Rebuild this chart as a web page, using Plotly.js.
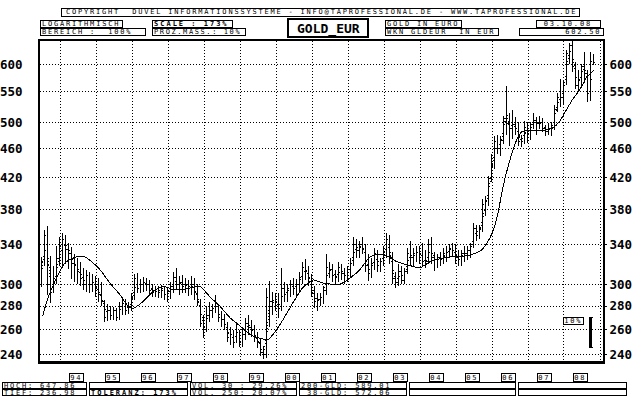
<!DOCTYPE html>
<html><head><meta charset="utf-8">
<script src="https://cdn.plot.ly/plotly-3.0.1.min.js"></script>
<style>
html,body{margin:0;padding:0;background:#fff;}
#chart{width:640px;height:400px;}
.main-svg path{shape-rendering:crispEdges;}
</style>
</head><body><div id="chart"></div>
<script>
// ---------- DATA (monthly bars, June 1993 .. October 2008) ----------
const firstMonth = [1993, 6];
const openV = [
 300,322,350,300,292,305,325,
 338,345,335,330,320,318,312,305,300,308,300,302,
 296,290,284,270,276,272,276,270,280,282,276,280,
 288,305,296,300,302,300,294,292,295,292,296,290,
 293,298,306,300,302,298,300,296,300,292,284,265,
 262,272,276,278,280,270,268,264,254,256,250,258,
 250,256,265,262,260,254,250,242,240,288,280,285,
 284,278,296,290,296,300,296,300,306,316,312,306,
 292,284,286,288,294,316,314,308,306,316,310,308,
 314,320,340,334,340,336,318,310,320,330,318,322,
 332,345,326,305,302,312,304,312,330,326,330,332,
 330,322,322,340,326,324,326,324,330,332,336,334,
 326,324,330,330,334,338,358,350,356,386,390,418,
 436,470,460,472,505,498,490,496,490,470,470,492,
 482,496,502,498,500,490,486,490,492,520,540,540,
 566,620,636,595,562,572,595,582,548,605
];
const highV = [
 327,356,360,328,318,338,348,
 352,350,342,337,330,326,322,316,314,312,310,308,
 306,302,285,282,280,279,278,284,288,286,284,292,
 310,311,305,307,306,304,300,298,298,299,298,297,
 302,312,316,308,309,306,304,308,306,300,286,272,
 280,284,282,290,282,276,273,266,262,260,266,260,
 262,270,272,268,264,258,253,247,296,303,293,292,
 292,316,302,300,304,306,305,312,322,325,318,310,
 298,292,292,298,330,322,320,314,322,320,316,318,
 326,348,346,344,348,340,330,326,336,334,326,338,
 352,350,332,312,320,318,316,336,344,336,338,338,
 342,334,346,348,332,330,332,336,338,340,342,340,
 334,334,338,338,342,364,362,362,392,396,422,452,
 478,480,478,510,560,515,520,508,500,480,502,500,
 500,514,508,510,506,496,498,500,528,548,572,570,
 628,642,648,605,590,600,624,590,624,620
];
const lowV = [
 297,318,290,283,292,300,318,
 318,320,315,305,302,300,298,295,293,292,293,288,
 284,280,266,267,268,268,267,268,272,272,273,276,
 285,292,292,293,294,290,288,288,287,287,285,284,
 286,292,295,290,292,292,289,290,285,280,262,253,
 258,266,270,274,266,262,260,250,248,245,250,246,
 246,252,256,254,250,245,239,237,238,262,272,276,
 270,276,284,284,288,290,288,294,300,304,298,288,
 278,276,280,282,290,306,302,300,302,304,300,302,
 307,318,326,326,330,312,303,306,314,312,312,318,
 326,320,300,296,298,300,300,310,318,318,322,320,
 318,316,320,320,313,316,318,320,322,326,328,320,
 318,318,322,324,326,336,344,346,354,372,384,414,
 432,452,450,466,480,464,474,480,464,462,466,468,
 472,490,480,490,484,478,480,478,488,516,524,528,
 562,600,585,555,550,556,566,532,535,598
];
const closeV = [
 322,350,300,292,305,325,338,
 345,335,330,320,318,312,305,300,308,300,302,296,
 290,284,270,276,272,276,270,280,282,276,280,288,
 305,296,300,302,300,294,292,295,292,296,290,293,
 298,306,300,302,298,300,296,300,292,284,265,262,
 272,276,278,280,270,268,264,254,256,250,258,250,
 256,265,262,260,254,250,242,240,288,280,285,284,
 278,296,290,296,300,296,300,306,316,312,306,292,
 284,286,288,294,316,314,308,306,316,310,308,314,
 320,340,334,340,336,318,310,320,330,318,322,332,
 345,326,305,302,312,304,312,330,326,330,332,330,
 322,322,340,326,324,326,324,330,332,336,334,326,
 324,330,330,334,338,358,350,356,386,390,418,436,
 470,460,472,505,498,490,496,490,470,470,492,482,
 496,502,498,500,490,486,490,492,520,540,540,566,
 620,636,595,562,572,595,582,548,605,602.5
];
// 38-day average (dotted line), one reading per month
const ma38 = [
 312,335,330,300,298,312,330,
 338,340,335,328,320,316,310,304,304,303,301,299,
 293,288,278,273,274,274,273,275,280,279,278,283,
 296,302,299,300,301,298,294,293,294,294,293,291,
 295,301,303,301,300,299,298,298,296,288,274,264,
 268,274,277,280,275,269,266,258,255,252,255,253,
 253,260,264,261,257,252,246,241,255,285,283,284,
 280,288,292,293,297,298,298,303,311,314,309,299,
 288,285,287,291,305,315,311,307,311,313,309,311,
 316,330,337,337,338,327,314,315,325,324,320,327,
 338,336,316,304,307,308,308,321,328,328,331,331,
 326,322,330,334,324,325,325,327,331,334,335,330,
 325,327,330,332,336,348,354,354,370,386,402,428,
 458,465,466,488,515,492,495,493,480,470,482,487,
 488,499,500,499,495,488,488,490,506,530,542,552,
 590,626,620,582,568,582,598,566,572,572
];
// 200-day average (solid line)
const maDates = ['1993-07-08','1993-08-18','1993-10-23','1994-02-21','1994-06-17','1994-09-09','1994-11-17',
 '1995-02-10','1995-05-22','1995-09-02','1995-11-21','1996-01-11','1996-04-22','1996-07-31','1996-11-10',
 '1997-02-21','1997-06-03','1997-09-09','1997-11-21','1998-03-04','1998-06-10','1998-09-20','1999-01-01',
 '1999-04-13','1999-07-24','1999-10-12','1999-12-20','2000-03-10','2000-06-21','2000-10-01','2001-01-12',
 '2001-04-23','2001-07-31','2001-10-12','2002-01-23','2002-05-01','2002-08-11','2002-11-22','2003-01-30',
 '2003-05-12','2003-08-22','2004-01-01','2004-04-12','2004-07-23','2004-10-30','2005-02-10','2005-05-22',
 '2005-09-02','2005-11-07','2006-01-12','2006-03-03','2006-04-23','2006-07-02','2006-09-09','2006-10-30',
 '2006-12-16','2007-02-21','2007-06-03','2007-09-09','2007-11-21','2008-01-30','2008-04-01','2008-06-10',
 '2008-08-18','2008-09-30','2008-10-31'];
const ma200 = [271,284,299,321,327,327,322,314,301,290,280,278,284,293,298,295,295,297,298,288,280,270,263,
 256,253,252,258,268,283,297,304,301,300,300,306,314,327,330,328,322,319,316,322,325,327,327,329,333,341,
 355,376,408,444,473,485,487,487,487,491,502,521,538,554,576,583,589];

const yTicks = [240,260,280,300,340,380,420,460,500,550,600];
const yearLabels = ['94','95','96','97','98','99','00','01','02','03','04','05','06','07','08'];
const yearValues = [1994,1995,1996,1997,1998,1999,2000,2001,2002,2003,2004,2005,2006,2007,2008];
const titleText = 'GOLD_EUR';
const headerTexts = ['COPYRIGHT  DUVEL INFORMATIONSSYSTEME - INFO@TAPROFESSIONAL.DE - WWW.TAPROFESSIONAL.DE',
 'LOGARITHMISCH','BEREICH :  100%','SCALE : 173%','PROZ.MASS.: 10%','GOLD IN EURO','WKN GLDEUR  IN EUR','03.10.08','602.50'];
const footerTexts = ['HOCH: 647.86','TIEF: 236.98','','TOLERANZ: 173%','VOL. 30 : 29.26%','VOL. 250: 20.07%',
 '200-GLD: 589.01',' 38-GLD: 572.06','','','',''];
const scaleText = '10%';

// ---------- month dates ----------
const dates = closeV.map((_, i) => {
  const m0 = firstMonth[1] - 1 + i;
  const y = firstMonth[0] + Math.floor(m0 / 12);
  const m = (m0 % 12) + 1;
  return y + '-' + String(m).padStart(2, '0') + '-28';
});

// ---------- geometry helpers ----------
const PL = 40, PR = 603, PT = 41, PB = 361;
const px2x = p => (p - PL) / (PR - PL);
const py2y = p => (PB - p) / (PB - PT);
const FONT = 'DejaVu Sans Mono, monospace';

const boxes = [
  {b:[61,8,579,16], t:headerTexts[0], a:'left', pad:5},
  {b:[40,20,122,27], t:headerTexts[1], a:'left'},
  {b:[40,28,145,35], t:headerTexts[2], a:'left'},
  {b:[152,20,232,27], t:headerTexts[3], a:'left', bold:true},
  {b:[152,28,245,35], t:headerTexts[4], a:'left', ls:1.6},
  {b:[385,20,461,27], t:headerTexts[5], a:'left'},
  {b:[385,28,498,35], t:headerTexts[6], a:'left'},
  {b:[536,20,600,27], t:headerTexts[7], a:'center'},
  {b:[519,28,603,35], t:headerTexts[8], a:'right'},
  {b:[288,19,368,37], t:titleText, a:'center', big:true, lw:2},
  {b:[2,382,86,388], t:footerTexts[0], a:'left'},
  {b:[2,389,86,395], t:footerTexts[1], a:'left'},
  {b:[89,382,187,388], t:footerTexts[2], a:'left'},
  {b:[89,389,187,395], t:footerTexts[3], a:'left', bold:true},
  {b:[190,382,296,388], t:footerTexts[4], a:'left'},
  {b:[190,389,296,395], t:footerTexts[5], a:'left'},
  {b:[299,382,406,388], t:footerTexts[6], a:'left'},
  {b:[299,389,406,395], t:footerTexts[7], a:'left'},
  {b:[409,382,515,388], t:footerTexts[8], a:'left'},
  {b:[409,389,515,395], t:footerTexts[9], a:'left'},
  {b:[518,382,626,388], t:footerTexts[10], a:'left'},
  {b:[518,389,626,395], t:footerTexts[11], a:'left'},
  {b:[563,317,583,324], t:scaleText, a:'center'}
];

const shapes = [], annotations = [];
boxes.forEach(bx => {
  const [L,T,R,B] = bx.b;
  shapes.push({type:'rect', xref:'paper', yref:'paper', x0:px2x(L), x1:px2x(R), y0:py2y(B), y1:py2y(T),
    line:{color:'#000', width:bx.lw || 1}, fillcolor:'rgba(0,0,0,0)', layer:'above'});
  if (bx.t) {
    const pad = bx.pad || 2;
    const x = bx.a === 'left' ? px2x(L + pad) : bx.a === 'right' ? px2x(R - pad) : px2x((L + R) / 2);
    annotations.push({xref:'paper', yref:'paper', x:x, y:py2y((T + B) / 2 + 0.5), xanchor:bx.a, yanchor:'middle',
      align:bx.a, text:bx.t, showarrow:false, borderpad:0, borderwidth:0,
      name: bx.ls ? 'ls' + bx.ls : '',
      font:{family:FONT, size:bx.big ? 13 : 7, color:'#000', weight:(bx.bold || bx.big) ? 'bold' : 'normal'}});
  }
});
// year boxes under the plot
yearLabels.forEach((lab, i) => {
  const xd = yearValues[i] + '-06-15';
  shapes.push({type:'rect', xref:'x', xsizemode:'pixel', xanchor:xd, x0:-7, x1:7, yref:'paper',
    y0:py2y(381), y1:py2y(373), line:{color:'#000', width:1}, fillcolor:'rgba(0,0,0,0)'});
  annotations.push({xref:'x', yref:'paper', x:xd, y:py2y(377.5), xanchor:'center', yanchor:'middle',
    text:lab, showarrow:false, borderpad:0, borderwidth:0, font:{family:FONT, size:7, color:'#000'}});
});
// 10% scale bracket
shapes.push({type:'line', xref:'paper', yref:'paper', x0:px2x(590), x1:px2x(590), y0:py2y(317), y1:py2y(348), line:{color:'#000', width:3}});
shapes.push({type:'line', xref:'paper', yref:'paper', x0:px2x(589), x1:px2x(593), y0:py2y(317.5), y1:py2y(317.5), line:{color:'#000', width:1}});
shapes.push({type:'line', xref:'paper', yref:'paper', x0:px2x(589), x1:px2x(593), y0:py2y(347.5), y1:py2y(347.5), line:{color:'#000', width:1}});
// heavier bottom frame
shapes.push({type:'line', xref:'paper', yref:'paper', x0:-0.004, x1:1.004, y0:py2y(362), y1:py2y(362), line:{color:'#000', width:3}});

const yRange = [Math.log10(235.5), Math.log10(645.7)];
const tickFont = {family:FONT, size:12.5, color:'#000', weight:'bold'};

const traces = [
  {type:'ohlc', x:dates, open:openV, high:highV, low:lowV, close:closeV,
   increasing:{line:{color:'#000', width:1}}, decreasing:{line:{color:'#000', width:1}},
   tickwidth:0.4, hoverinfo:'skip', showlegend:false},
  {type:'scatter', mode:'lines', x:dates, y:ma38, line:{color:'#000', width:1, dash:'1px,2px'},
   hoverinfo:'skip', showlegend:false},
  {type:'scatter', mode:'lines', x:maDates, y:ma200, line:{color:'#000', width:1, shape:'spline', smoothing:0.6},
   hoverinfo:'skip', showlegend:false},
  {type:'scatter', mode:'markers', x:[dates[0]], y:[closeV[0]], yaxis:'y2', marker:{opacity:0},
   hoverinfo:'skip', showlegend:false}
];

const layout = {
  width:640, height:400,
  margin:{l:PL, r:640 - PR, t:PT, b:400 - PB, pad:0},
  paper_bgcolor:'#fff', plot_bgcolor:'#fff',
  showlegend:false, hovermode:false, dragmode:false,
  xaxis:{type:'date', range:['1993-06-11','2009-01-31'], rangeslider:{visible:false},
    tick0:'1994-01-01', dtick:'M12', showticklabels:false, ticks:'',
    showgrid:true, gridcolor:'#000', gridwidth:1, griddash:'1px,2px',
    showline:true, mirror:true, linecolor:'#000', linewidth:2, zeroline:false, automargin:false},
  yaxis:{type:'log', range:yRange, tickmode:'array', tickvals:yTicks, ticktext:yTicks.map(String),
    side:'left', ticks:'', ticklabelstandoff:13, tickfont:tickFont,
    showgrid:true, gridcolor:'#000', gridwidth:1, griddash:'1px,2px',
    showline:true, mirror:true, linecolor:'#000', linewidth:2, zeroline:false, automargin:false},
  yaxis2:{type:'log', range:yRange, overlaying:'y', side:'right', tickmode:'array', tickvals:yTicks,
    ticktext:yTicks.map(String), ticks:'outside', ticklen:3, tickwidth:1, tickcolor:'#000',
    tickfont:tickFont, showgrid:false, showline:false, zeroline:false, automargin:false},
  shapes:shapes, annotations:annotations
};

Plotly.newPlot('chart', traces, layout, {staticPlot:true, displayModeBar:false}).then(gd => {
  const anns = gd.layout.annotations;
  gd.querySelectorAll('.annotation').forEach(g => {
    const idx = +g.getAttribute('data-index');
    const t = g.querySelector('.annotation-text');
    if (!t) return;
    const fs = parseFloat(t.style.fontSize);
    if (fs > 8) return;
    const a = anns[idx] || {};
    const bold = a.font && a.font.weight === 'bold';
    let ls = bold ? 2 : 1.8;
    if (a.name && a.name.indexOf('ls') === 0) ls = parseFloat(a.name.slice(2));
    t.style.letterSpacing = ls + 'px';
  });
});
</script>
</body></html>
